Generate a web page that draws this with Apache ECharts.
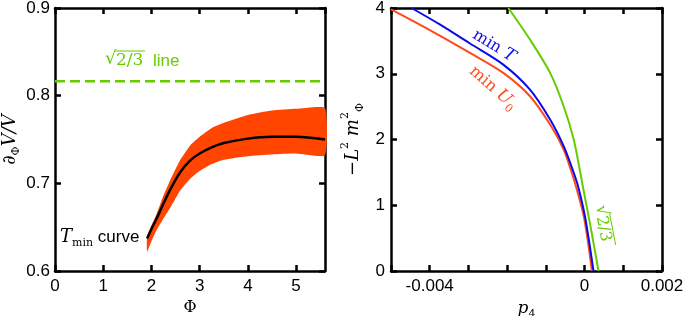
<!DOCTYPE html>
<html>
<head>
<meta charset="utf-8">
<script src="https://cdn.jsdelivr.net/npm/echarts@6/dist/echarts.min.js"></script>
<style>
html, body { margin: 0; padding: 0; background: #fff; }
#chart { width: 685px; height: 316px; }
</style>
</head>
<body>
<div id="chart"></div>
<script>
// left panel : T_min curve with its band
var phi       = [1.91, 2.0, 2.1, 2.25, 2.4, 2.6, 2.8, 3.0, 3.25, 3.5, 4.0, 4.5, 5.0, 5.6];
var tminCurve = [0.637, 0.648, 0.659, 0.677, 0.694, 0.713, 0.726, 0.734, 0.741, 0.746, 0.751, 0.753, 0.753, 0.750];
var bandLow   = [0.622, 0.634, 0.646, 0.660, 0.673, 0.692, 0.705, 0.714, 0.722, 0.727, 0.731, 0.733, 0.734, 0.732];
var bandHigh  = [0.640, 0.652, 0.664, 0.686, 0.705, 0.727, 0.743, 0.753, 0.763, 0.769, 0.778, 0.783, 0.785, 0.786];
var sqrtLineX = [0, 5.6];
var sqrtLineY = [0.8165, 0.8165];

// right panel : three curves in (p4, -L^2 m^2)
var minTp = [-0.00447, -0.00374, -0.00296, -0.0021, -0.00141, -0.00089, -0.00054, -0.00028, -0.000155, 0.00002, 0.00023];
var minTm = [4.0, 3.75, 3.46, 3.139, 2.759, 2.304, 1.898, 1.494, 1.26, 0.80, 0];
var minUp = [-0.005, -0.00417, -0.00296, -0.0021, -0.00141, -0.00089, -0.00054, -0.00033, -0.0002, -0.00001, 0.00019];
var minUm = [3.98, 3.72, 3.317, 3.013, 2.658, 2.228, 1.848, 1.494, 1.24, 0.80, 0];
var sqrtP = [-0.00197, -0.00141, -0.00089, -0.00054, -0.00028, -0.00011, -0.00003, 0.00014, 0.00036];
var sqrtM = [4.0, 3.52, 3.013, 2.506, 2.0, 1.494, 1.24, 0.72, 0];

var xLeftTicks = [0, 1, 2, 3, 4, 5];
var xRightLabels = ['-0.004', '0', '0.002'];

function pairs(xs, ys) {
  return xs.map(function (x, i) { return [x, ys[i]]; });
}

var GREEN = '#66cc00', ORANGE = '#ff4500', BLUE = '#0a0aee', RED = '#ff4a1a';
var SANS = 'Liberation Sans', SERIF = 'DejaVu Serif';

var chart = echarts.init(document.getElementById('chart'));

function frameAxis(extra) {
  var a = {
    axisLine: { show: true, onZero: false, lineStyle: { color: '#000', width: 2.5 } },
    axisTick: { show: true, inside: true, length: 6, lineStyle: { color: '#000', width: 2.5 } },
    splitLine: { show: false },
    axisLabel: { show: false }
  };
  for (var k in extra) a[k] = extra[k];
  return a;
}

var tickLabel = { show: true, color: '#000', fontSize: 17, fontFamily: SANS };

// orange band drawn as one polygon: upper edge forward, lower edge back
function renderBand(params, api) {
  var pts = [];
  for (var i = 0; i < phi.length; i++) pts.push(api.coord([phi[i], bandHigh[i]]));
  for (var j = phi.length - 1; j >= 0; j--) pts.push(api.coord([phi[j], bandLow[j]]));
  return { type: 'polygon', shape: { points: pts, smooth: 0.15 }, style: { fill: ORANGE } };
}

chart.setOption({
  animation: false,
  grid: [
    { left: 55, top: 8, width: 270, height: 263, outerBoundsMode: 'none', containLabel: false },
    { left: 391, top: 8, width: 271, height: 263, outerBoundsMode: 'none', containLabel: false }
  ],
  xAxis: [
    frameAxis({ gridIndex: 0, type: 'value', position: 'bottom', min: 0, max: 5.6, interval: 1,
      axisLabel: Object.assign({}, tickLabel, { margin: 7, showMaxLabel: false,
        formatter: function (v) { return xLeftTicks.indexOf(Math.round(v * 10) / 10) >= 0 ? String(Math.round(v)) : ''; } }),
      name: '{s|Φ}', nameLocation: 'middle', nameGap: 25,
      nameTextStyle: { rich: { s: { fontFamily: SERIF, fontSize: 16, color: '#000' } } } }),
    frameAxis({ gridIndex: 0, type: 'value', position: 'top', min: 0, max: 5.6, interval: 1 }),
    frameAxis({ gridIndex: 1, type: 'value', position: 'bottom', min: -0.005, max: 0.002, interval: 0.001,
      axisLabel: Object.assign({}, tickLabel, { margin: 7, showMinLabel: true, showMaxLabel: true,
        formatter: function (v) {
          var r = Math.round(v * 10000) / 10000;
          var s = r === 0 ? '0' : String(r);
          return xRightLabels.indexOf(s) >= 0 ? s : '';
        } }),
      name: '{i|p}{b|4}', nameLocation: 'middle', nameGap: 24,
      nameTextStyle: { rich: {
        i: { fontFamily: SERIF, fontStyle: 'italic', fontSize: 17, color: '#000', lineHeight: 22 },
        b: { fontFamily: SERIF, fontSize: 11, color: '#000', verticalAlign: 'bottom' }
      } } }),
    frameAxis({ gridIndex: 1, type: 'value', position: 'top', min: -0.005, max: 0.002, interval: 0.001 })
  ],
  yAxis: [
    frameAxis({ gridIndex: 0, type: 'value', position: 'left', min: 0.6, max: 0.9, interval: 0.1,
      axisLabel: Object.assign({}, tickLabel, { margin: 5,
        formatter: function (v) { return v.toFixed(1); } }),
      name: '{i|∂}{b|Φ}{i|V/V}', nameLocation: 'middle', nameGap: 33, nameRotate: 90,
      nameTextStyle: { rich: {
        i: { fontFamily: SERIF, fontStyle: 'italic', fontSize: 18, color: '#000', lineHeight: 24 },
        b: { fontFamily: SERIF, fontSize: 11, color: '#000', verticalAlign: 'bottom' }
      } } }),
    frameAxis({ gridIndex: 0, type: 'value', position: 'right', min: 0.6, max: 0.9, interval: 0.1 }),
    frameAxis({ gridIndex: 1, type: 'value', position: 'left', min: 0, max: 4, interval: 1,
      axisLabel: Object.assign({}, tickLabel, { margin: 6 }),
      name: '{i|−L}{p|2}{i| m}{p|2}{b|Φ}', nameLocation: 'middle', nameGap: 25, nameRotate: 90,
      nameTextStyle: { rich: {
        i: { fontFamily: SERIF, fontStyle: 'italic', fontSize: 18, color: '#000', lineHeight: 26 },
        p: { fontFamily: SERIF, fontSize: 11, color: '#000', verticalAlign: 'top' },
        b: { fontFamily: SERIF, fontSize: 11, color: '#000', verticalAlign: 'bottom' }
      } } }),
    frameAxis({ gridIndex: 1, type: 'value', position: 'right', min: 0, max: 4, interval: 1 })
  ],
  series: [
    { type: 'custom', xAxisIndex: 0, yAxisIndex: 0, data: [0], renderItem: renderBand, silent: true, z: 1 },
    { type: 'line', xAxisIndex: 0, yAxisIndex: 0, data: pairs(phi, tminCurve), symbol: 'none', smooth: 0.3,
      lineStyle: { color: '#000', width: 2.5 }, z: 3 },
    { type: 'line', xAxisIndex: 0, yAxisIndex: 0, data: pairs(sqrtLineX, sqrtLineY), symbol: 'none',
      lineStyle: { color: GREEN, width: 2.5, type: [10, 5] } },
    { type: 'line', xAxisIndex: 2, yAxisIndex: 2, data: pairs(minUp, minUm), symbol: 'none', smooth: 0.3,
      lineStyle: { color: RED, width: 2 } },
    { type: 'line', xAxisIndex: 2, yAxisIndex: 2, data: pairs(minTp, minTm), symbol: 'none', smooth: 0.3,
      lineStyle: { color: BLUE, width: 2 } },
    { type: 'line', xAxisIndex: 2, yAxisIndex: 2, data: pairs(sqrtP, sqrtM), symbol: 'none', smooth: 0.3,
      lineStyle: { color: GREEN, width: 2 } }
  ],
  graphic: [
    // sqrt(2/3) line label
    { type: 'group', x: 105, y: 49, children: [
      { type: 'text', x: 0, y: 1, style: { text: '√', font: '18px "' + SERIF + '"', fill: GREEN } },
      { type: 'line', shape: { x1: 10, y1: 2, x2: 40, y2: 2 }, style: { stroke: GREEN, lineWidth: 1 } },
      { type: 'text', x: 11, y: 3, style: { text: '2/3', font: '17px "' + SERIF + '"', fill: GREEN } },
      { type: 'text', x: 48, y: 4, style: { text: 'line', font: '17px "' + SANS + '"', fill: GREEN } }
    ] },
    // T_min curve label
    { type: 'text', left: 60, top: 228, style: {
      text: '{t|T}{s|min}{c| curve}',
      rich: {
        t: { fontFamily: SERIF, fontStyle: 'italic', fontSize: 18, fill: '#000', lineHeight: 24 },
        s: { fontFamily: SERIF, fontSize: 11, fill: '#000', verticalAlign: 'bottom' },
        c: { fontFamily: SANS, fontSize: 17, fill: '#000' }
      } } },
    // min T
    { type: 'text', x: 494, y: 46, rotation: -0.55, style: {
      text: '{a|min }{t|T}', align: 'center', verticalAlign: 'middle',
      rich: {
        a: { fontFamily: SERIF, fontSize: 16, fill: BLUE },
        t: { fontFamily: SERIF, fontStyle: 'italic', fontSize: 17, fill: BLUE }
      } } },
    // min U0
    { type: 'text', x: 493, y: 88, rotation: -0.72, style: {
      text: '{a|min }{t|U}{s|0}', align: 'center', verticalAlign: 'middle',
      rich: {
        a: { fontFamily: SERIF, fontSize: 16, fill: RED, lineHeight: 22 },
        t: { fontFamily: SERIF, fontStyle: 'italic', fontSize: 17, fill: RED, lineHeight: 22 },
        s: { fontFamily: SERIF, fontSize: 11, fill: RED, verticalAlign: 'bottom' }
      } } },
    // sqrt(2/3) on the right panel
    { type: 'group', x: 603, y: 227, rotation: -1.38, children: [
      { type: 'text', x: -22, y: -10, style: { text: '√', font: '17px "' + SERIF + '"', fill: GREEN } },
      { type: 'line', shape: { x1: -12, y1: -9, x2: 20, y2: -9 }, style: { stroke: GREEN, lineWidth: 1 } },
      { type: 'text', x: -11, y: -8, style: { text: '2/3', font: '16px "' + SERIF + '"', fill: GREEN } }
    ] }
  ]
});
</script>
</body>
</html>
